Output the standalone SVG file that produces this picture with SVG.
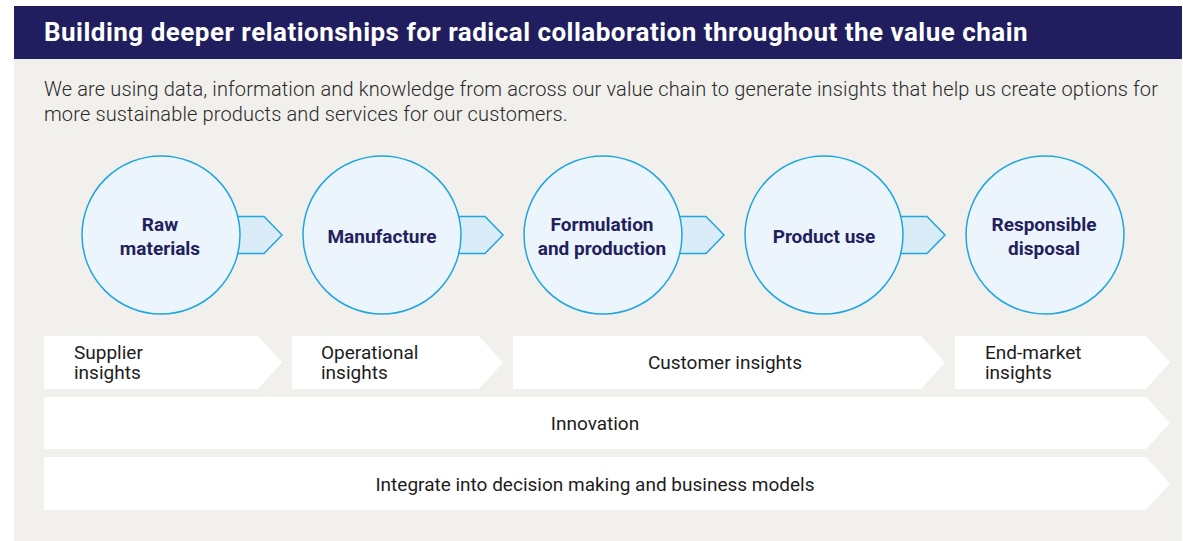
<svg xmlns="http://www.w3.org/2000/svg" width="1183" height="541" viewBox="0 0 1183 541">
<style>
.title{font-family:Roboto,"Liberation Sans",sans-serif;font-weight:700;font-size:26px;letter-spacing:0.48px;fill:#ffffff}
.sub{font-family:Roboto,"Liberation Sans",sans-serif;font-weight:300;font-size:20px;letter-spacing:0.14px;fill:#2a2a2a}
.circ{fill:#edf5fc;stroke:#1ea6df;stroke-width:1.5}
.tab{fill:#d9ecf8;stroke:#1ea6df;stroke-width:1.5}
.ctext{font-family:Roboto,"Liberation Sans",sans-serif;font-weight:700;font-size:19px;fill:#23205e;text-anchor:middle}
.bar{fill:#ffffff}
.btext{font-family:Roboto,"Liberation Sans",sans-serif;font-weight:400;font-size:19px;fill:#1c1c1c}
.mid{text-anchor:middle}
</style>
<rect x="14" y="6" width="1168" height="535" fill="#f1f0ed"/>
<rect x="14" y="6" width="1168" height="53" fill="#201e5e"/>
<text class="title" x="44" y="41">Building deeper relationships for radical collaboration throughout the value chain</text>
<text class="sub" x="44" y="96">We are using data, information and knowledge from across our value chain to generate insights that help us create options for</text>
<text class="sub" x="44" y="121">more sustainable products and services for our customers.</text>

<g id="connectors">
<path class="tab" d="M230,216.5 H264 L282,235 L264,253.5 H230 Z"/>
<path class="tab" d="M451,216.5 H485 L503,235 L485,253.5 H451 Z"/>
<path class="tab" d="M672,216.5 H706 L724,235 L706,253.5 H672 Z"/>
<path class="tab" d="M893,216.5 H927 L945,235 L927,253.5 H893 Z"/>
</g>

<g id="raw-materials">
<circle class="circ" cx="161" cy="235" r="79"/>
<text class="ctext" x="160" y="231">Raw</text>
<text class="ctext" x="160" y="255">materials</text>
</g>
<g id="manufacture">
<circle class="circ" cx="382" cy="235" r="79"/>
<text class="ctext" x="382" y="243">Manufacture</text>
</g>
<g id="formulation">
<circle class="circ" cx="603" cy="235" r="79"/>
<text class="ctext" x="602" y="231">Formulation</text>
<text class="ctext" x="602" y="255">and production</text>
</g>
<g id="product-use">
<circle class="circ" cx="824" cy="235" r="79"/>
<text class="ctext" x="824" y="243">Product use</text>
</g>
<g id="responsible-disposal">
<circle class="circ" cx="1045" cy="235" r="79"/>
<text class="ctext" x="1044" y="231">Responsible</text>
<text class="ctext" x="1044" y="255">disposal</text>
</g>

<g id="supplier-insights">
<path class="bar" d="M44,336 H258 L282,362.5 L258,389 H44 Z"/>
<text class="btext" x="74" y="359">Supplier</text>
<text class="btext" x="74" y="379">insights</text>
</g>
<g id="operational-insights">
<path class="bar" d="M292,336 H479 L503,362.5 L479,389 H292 Z"/>
<text class="btext" x="321" y="359">Operational</text>
<text class="btext" x="321" y="379">insights</text>
</g>
<g id="customer-insights">
<path class="bar" d="M513,336 H921 L945,362.5 L921,389 H513 Z"/>
<text class="btext mid" x="725" y="369">Customer insights</text>
</g>
<g id="end-market-insights">
<path class="bar" d="M955,336 H1146 L1170,362.5 L1146,389 H955 Z"/>
<text class="btext" x="985" y="359">End-market</text>
<text class="btext" x="985" y="379">insights</text>
</g>
<g id="innovation">
<path class="bar" d="M44,397 H1146 L1170,423 L1146,449 H44 Z"/>
<text class="btext mid" x="595" y="430">Innovation</text>
</g>
<g id="integrate">
<path class="bar" d="M44,457 H1146 L1170,483.5 L1146,510 H44 Z"/>
<text class="btext mid" x="595" y="491">Integrate into decision making and business models</text>
</g>
</svg>
